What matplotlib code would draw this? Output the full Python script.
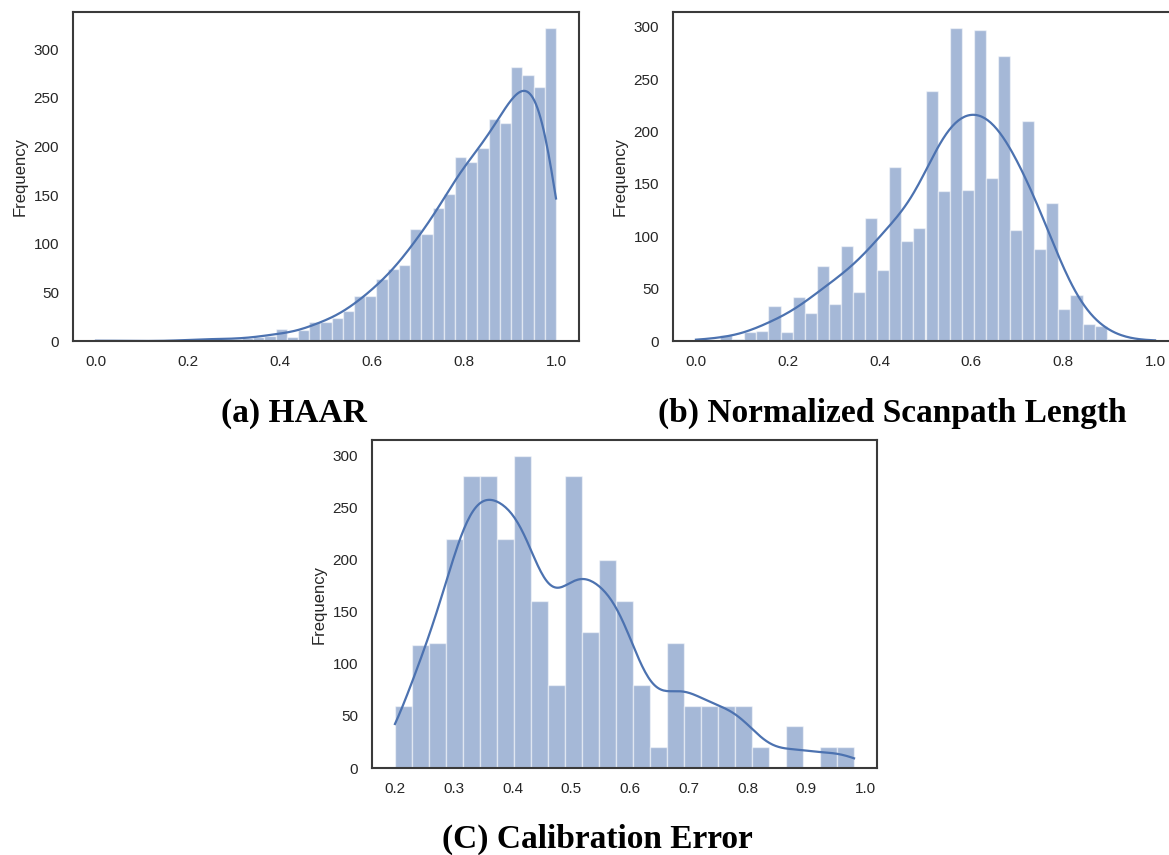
import numpy as np
import matplotlib.pyplot as plt

plt.rcParams['font.family'] = ['Liberation Sans', 'DejaVu Sans']

# (a) HAAR: 41 bins over [0, 1]
haar_range = (0.0, 1.0)
haar_counts = [1, 0, 0, 0, 0, 0, 0, 0, 2, 2, 2, 2, 2, 3, 4, 5, 12, 4, 11, 20,
               20, 24, 31, 46, 46, 64, 74, 78, 115, 110, 137, 151, 189, 184, 198, 228,
               224, 282, 273, 261, 322]

# (b) Normalized scanpath length: 38 bins over [0, 1]
scan_range = (0.0, 1.0)
scan_counts = [2, 1, 6, 2, 9, 10, 33, 9, 42, 27, 72, 35, 91, 47, 117, 68, 166, 95, 108,
               239, 143, 299, 144, 297, 156, 272, 106, 210, 88, 132, 31, 44, 16, 14, 2, 2,
               0, 1]

# (C) Calibration error: 27 bins over [0.2, 0.981]
calib_range = (0.2, 0.981)
calib_counts = [60, 118, 120, 220, 280, 280, 220, 300, 160, 80, 280, 131, 200, 160, 80,
                20, 120, 60, 60, 60, 60, 20, 0, 40, 0, 20, 20]

captions = ['(a) HAAR', '(b) Normalized Scanpath Length', '(C) Calibration Error']

BLUE = '#4C72B0'
W, H = 1169, 855


def kde_curve(lo, hi, counts, adjust):
    counts = np.asarray(counts, float)
    edges = np.linspace(lo, hi, len(counts) + 1)
    centers = (edges[:-1] + edges[1:]) / 2
    width = edges[1] - edges[0]
    n = counts.sum()
    mean = (counts * centers).sum() / n
    std = np.sqrt((counts * (centers - mean) ** 2).sum() / n)
    bw = std * n ** (-1 / 5) * adjust  # scott
    xs = np.linspace(lo, hi, 300)
    z = (xs[:, None] - centers[None, :]) / bw
    dens = (counts * np.exp(-0.5 * z ** 2)).sum(1) / (bw * np.sqrt(2 * np.pi))
    return xs, dens * width


def hist_panel(rect, rng, counts, adjust):
    ax = fig.add_axes(rect)
    lo, hi = rng
    edges = np.linspace(lo, hi, len(counts) + 1)
    ax.bar(edges[:-1], counts, width=edges[1] - edges[0], align='edge',
           color=BLUE, alpha=0.5, edgecolor='white', linewidth=1)
    xs, ys = kde_curve(lo, hi, counts, adjust)
    ax.plot(xs, ys, color=BLUE, lw=1.6)
    ax.set_ylabel('Frequency', fontsize=12, color='#262626')
    ax.tick_params(length=0, pad=10, labelsize=11, labelcolor='#262626')
    for s in ax.spines.values():
        s.set_color('#3a3a3a')
        s.set_linewidth(1.5)
    return ax


fig = plt.figure(figsize=(W / 100, H / 100), dpi=100)

def px_rect(left, top, right, bottom):
    return [left / W, 1 - bottom / H, (right - left) / W, (bottom - top) / H]

hist_panel(px_rect(73, 12, 579, 341), haar_range, haar_counts, 1.4)
hist_panel(px_rect(673, 12, 1178, 341), scan_range, scan_counts, 1.5)
ax_c = hist_panel(px_rect(372, 440, 877, 768), calib_range, calib_counts, 1.1)
ax_c.set_xticks(np.arange(0.2, 1.01, 0.1))

cap_kw = dict(ha='center', va='baseline', fontsize=24, fontweight='bold',
              family='Liberation Serif')
fig.text(294 / W, 1 - 422 / H, captions[0], **cap_kw)
fig.text(892 / W, 1 - 422 / H, captions[1], **cap_kw)
fig.text(597 / W, 1 - 848 / H, captions[2], **cap_kw)

fig.savefig('out.png', dpi=100)
